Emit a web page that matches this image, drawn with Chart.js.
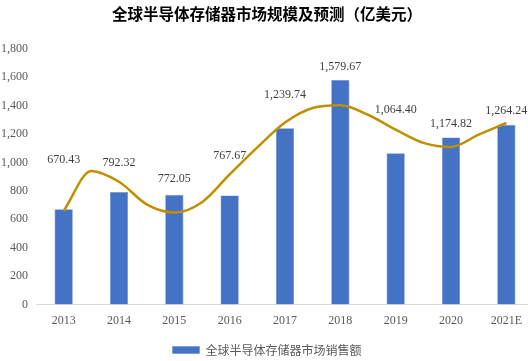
<!DOCTYPE html>
<html>
<head>
<meta charset="utf-8">
<script src="https://cdn.jsdelivr.net/npm/chart.js@4/dist/chart.umd.min.js"></script>
<style>
html,body{margin:0;padding:0;background:#fff;overflow:hidden;}
#wrap{width:528px;height:361px;position:relative;overflow:hidden;}
</style>
</head>
<body>
<div id="wrap"><canvas id="c" width="534" height="366"></canvas></div>
<script>
// ---- data ----
const categories = ['2013','2014','2015','2016','2017','2018','2019','2020','2021E'];
const salesValues = [670.43, 792.32, 772.05, 767.67, 1239.74, 1579.67, 1064.40, 1174.82, 1264.24];
const seriesName = '全球半导体存储器市场销售额';
const titleText = '全球半导体存储器市场规模及预测（亿美元）';
// trend curve at whole and half category positions
const trendX = [0, 0.5, 1, 1.5, 2, 2.5, 3, 3.5, 4, 4.5, 5, 5.5, 6, 6.5, 7, 7.5, 8];
const trendY = [658, 940, 864, 705, 647, 720, 915, 1105, 1280, 1382, 1401, 1335, 1230, 1137, 1108, 1195, 1277];
// y-value (in axis units) where each data label sits
const labelAt = [1015, 994, 882, 1043, 1477, 1673, 1372, 1274, 1365];
const yTicks = [0, 200, 400, 600, 800, 1000, 1200, 1400, 1600, 1800];

const fmt = v => v.toLocaleString('en-US', {minimumFractionDigits: 2, maximumFractionDigits: 2});

const labelPlugin = {
  id: 'barLabels',
  afterDatasetsDraw(chart) {
    const ctx = chart.ctx;
    const meta = chart.getDatasetMeta(0);
    const ys = chart.scales.y;
    ctx.save();
    ctx.font = '12px "Liberation Serif", "Times New Roman", serif';
    ctx.fillStyle = '#404040';
    ctx.textAlign = 'center';
    ctx.textBaseline = 'middle';
    meta.data.forEach((bar, i) => {
      ctx.fillText(fmt(salesValues[i]), bar.x, ys.getPixelForValue(labelAt[i]));
    });
    ctx.restore();
  }
};

new Chart(document.getElementById('c'), {
  data: {
    labels: categories,
    datasets: [
      {
        type: 'bar',
        label: seriesName,
        data: salesValues,
        backgroundColor: '#4472C4',
        borderColor: '#6a8fd3',
        borderWidth: 0.6,
        barPercentage: 0.33,
        categoryPercentage: 1,
        grouped: false,
        order: 2
      },
      {
        type: 'line',
        label: 'trend',
        data: trendX.map((x, i) => ({x: x, y: trendY[i]})),
        xAxisID: 'xl',
        borderColor: '#BF9000',
        borderWidth: 2.5,
        pointRadius: 0,
        cubicInterpolationMode: 'monotone',
        fill: false,
        order: 1
      }
    ]
  },
  options: {
    responsive: false,
    animation: false,
    layout: {padding: {left: 0, right: 0, top: 0, bottom: 0}},
    plugins: {
      title: {
        display: true,
        text: titleText,
        font: {family: '"Noto Sans CJK SC"', size: 15.5, weight: 'bold'},
        color: '#000',
        padding: {top: 5, bottom: 25}
      },
      legend: {
        position: 'bottom',
        labels: {
          filter: item => item.datasetIndex === 0,
          boxWidth: 27,
          boxHeight: 7,
          color: '#595959',
          font: {family: '"Noto Sans CJK SC"', size: 12},
          padding: 7
        }
      },
      tooltip: {enabled: false}
    },
    scales: {
      x: {
        type: 'category',
        offset: true,
        grid: {display: false, drawTicks: false},
        border: {display: true, color: '#D9D9D9', width: 1},
        ticks: {color: '#595959', font: {family: '"Liberation Serif"', size: 12}, padding: 9}
      },
      xl: {
        type: 'linear',
        display: false,
        min: -0.5,
        max: 8.5
      },
      y: {
        min: 0,
        max: 1800,
        afterBuildTicks: s => { s.ticks = yTicks.map(v => ({value: v})); },
        afterFit: s => { s.width = 36; },
        grid: {display: false, drawTicks: false},
        border: {display: false},
        ticks: {
          color: '#595959',
          font: {family: '"Liberation Serif"', size: 12},
          padding: 8,
          callback: v => v.toLocaleString('en-US')
        }
      }
    }
  },
  plugins: [labelPlugin]
});
</script>
</body>
</html>
